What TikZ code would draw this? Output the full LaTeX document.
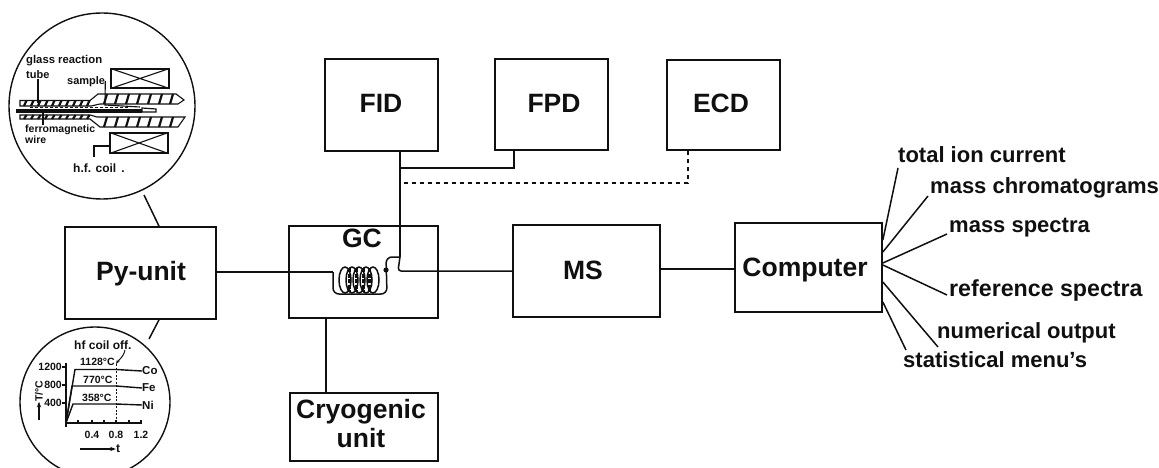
\documentclass[tikz,border=0pt]{standalone}
\usepackage{fontspec}
\setmainfont{Liberation Sans}
\usepackage{tikz}
\usetikzlibrary{positioning,arrows.meta,calc}
\definecolor{ink}{HTML}{101010}
\newcommand{\boxf}{\fontsize{26.5}{30}\selectfont\bfseries}
\newcommand{\labf}{\fontsize{22}{24}\selectfont\bfseries}
\newcommand{\tnyf}{\fontsize{10.5}{12}\selectfont\bfseries}
\begin{document}
\begin{tikzpicture}[
  x=1pt, y=-1pt, text=ink, font=\tnyf,
  unit/.style={draw=ink, line width=1.7pt, inner sep=0pt, align=center, font=\boxf},
  ln/.style={line width=1.5pt, draw=ink},
  thn/.style={line width=1.1pt, draw=ink},
  hat/.style={line width=2.2pt, draw=ink},
  dsh/.style={line width=1.5pt, draw=ink, dash pattern=on 4pt off 4pt},
  lab/.style={anchor=base west, inner sep=0pt, font=\labf},
  tny/.style={anchor=west, inner sep=0pt},
  arr/.style={-{Stealth[length=2mm]}, line width=1.1pt, draw=ink},
]
\useasboundingbox (0,0) rectangle (1159,468);
% ---------------- blocks ----------------
\node[unit, minimum width=151pt, minimum height=92pt] (py) at (140.5,273) {};
\node[font=\boxf, inner sep=0pt] (pylab) at (141,274) {Py-unit};
\node[unit, minimum width=149pt, minimum height=92pt] (gc) at (363.5,272) {};
\node[font=\boxf] (gclab) at (362,238) {GC};
\node[unit, minimum width=148pt, minimum height=68pt] (cryo) at (364,427) {};
\node[font=\boxf, inner sep=0pt] (cryoa) at (361,412) {Cryogenic};
\node[font=\boxf, inner sep=0pt] (cryob) at (361,438) {unit};
\node[unit, minimum width=113pt, minimum height=92pt] (fid) at (381.5,105) {};
\node[font=\boxf, inner sep=0pt] (fidlab) at (381,103) {FID};
\node[unit, minimum width=113pt, minimum height=91pt] (fpd) at (551.5,104.5) {};
\node[font=\boxf, inner sep=0pt] (fpdlab) at (554,103) {FPD};
\node[unit, minimum width=113pt, minimum height=90pt] (ecd) at (723.5,105) {};
\node[font=\boxf, inner sep=0pt] (ecdlab) at (721,103) {ECD};
\node[unit, minimum width=147pt, minimum height=92pt] (ms) at (586.5,271) {};
\node[font=\boxf, inner sep=0pt] (mslab) at (583,270) {MS};
\node[unit, minimum width=147pt, minimum height=89pt] (comp) at (808.5,267.5) {};
\node[font=\boxf, inner sep=0pt] (complab) at (805,270) {Computer};
% ---------------- column and detector lines ----------------
\coordinate (coilin) at (333,272);
\coordinate (jcol) at (400,257);
\coordinate (jfpd) at (400,168);
\coordinate (jecd) at (400,183);
\draw[ln] (py.east |- coilin) -- (coilin);
\draw[ln] (fid.south -| jcol) -- (jcol);
\draw[ln] ([xshift=-37.5pt]fpd.south) |- (jfpd);
\draw[dsh] ([xshift=-35.5pt]ecd.south) |- (jecd);
\draw[ln, rounded corners=3pt] (jcol) -- (398,271) -- (ms.west |- 0,271);
\draw[ln] (ms.east |- 0,269) -- (comp.west |- 0,269);
\draw[ln] (cryo.north -| 326,0) -- (gc.south -| 326,0);
% coil
\draw[ln, rounded corners=6pt] (coilin) -- (333,294) -- (387,294) -- (386,257) -- (jcol);
\foreach \cx in {345,352,359,366,373}
  \draw[ln] (\cx,280) ellipse [x radius=6, y radius=13];
\draw[line width=3pt, draw=ink, dash pattern=on 4pt off 1.5pt] (349,268) -- (349,292) (356,268) -- (356,292) (363,268) -- (363,292) (369,268) -- (369,292);
\fill[ink] (386,270) circle [radius=2.6];
% ---------------- pyrolysis detail (upper circle) ----------------
\node[circle, draw=ink, line width=1.4pt, minimum size=186pt, inner sep=0pt] (cup) at (102,106) {};
\draw[ln] (144,195) -- (py.north -| 159,0);
\node[tny] (tglass) at (26,61) {\fontsize{11.3}{12}\selectfont glass reaction};
\node[tny] (ttube) at (26,75) {\fontsize{11}{12}\selectfont tube};
\node[tny] (tsample) at (67,82) {\fontsize{11}{12}\selectfont sample};
\node[tny] (tferro) at (25,130) {ferromagnetic};
\node[tny] (twire) at (25,140) {wire};
\node[tny] (thf) at (73,168) {\fontsize{12}{12}\selectfont h.f. coil\hspace{5pt}.};
\node[draw=ink, line width=1.1pt, minimum width=58pt, minimum height=19pt, inner sep=0pt] (ctop) at (140,78.5) {};
\node[draw=ink, line width=1.1pt, minimum width=58pt, minimum height=20pt, inner sep=0pt] (cbot) at (139,143) {};
\draw[thn] (ctop.north west) -- (ctop.south east) (ctop.south west) -- (ctop.north east);
\draw[thn] (cbot.north west) -- (cbot.south east) (cbot.south west) -- (cbot.north east);
\draw[thn] (cbot.west |- 0,146) -| (94,157);
\draw[thn] (ttube.south -| 38,0) -- (38,103);
\draw[thn] (tsample.east |- 0,81) -- (105,105) -- (140,107);
\draw[thn] (tferro.north -| 43,0) -- (43,112);
% glass tube walls
\draw[thn] (20,100.5) -- (90,100.5) -- (98,94) -- (176,94) -- (184,100) -- (178,104) -- (100,104) -- (91,106) -- (20,106) -- cycle;
\draw[thn] (20,115) -- (90,115) -- (97,117) -- (185,117) -- (178,127) -- (100,127) -- (90,119) -- (20,119) -- cycle;
\foreach \hx in {24,31,...,88} {
  \draw[hat] (\hx,106) -- (\hx+2.5,100.5);
  \draw[hat] (\hx,119) -- (\hx+2.5,115);
}
\foreach \hx in {104,115,...,170} {
  \draw[hat] (\hx,104) -- (\hx+3,94);
  \draw[hat] (\hx,127) -- (\hx+3,117);
}
\draw[line width=3.2pt, draw=ink] (16,111) -- (142,111);
\draw[line width=1pt, draw=ink, dash pattern=on 3pt off 2pt] (30,108) -- (130,108);
\draw[line width=1.2pt, draw=ink] (142,108) -- (142,112) -- (156,112) -- (156,109) -- cycle;
% ---------------- temperature plot (lower circle) ----------------
\node[circle, draw=ink, line width=1.4pt, minimum size=150pt, inner sep=0pt] (cdn) at (95,402) {};
\draw[ln] (py.south -| 159,0) -- (149,339);
\coordinate (org) at (66,423);
\draw[thn] (66,363) -- (org) -- (142,423);
\foreach \ty/\tl in {367/1200,385/800,403/400} {
  \draw[thn] (62,\ty) -- (66,\ty);
  \node[anchor=east, inner sep=0pt] (y\tl) at (62,\ty) {\tl};
}
\foreach \tx in {78,92,104,116,129,141}
  \draw[thn] (\tx,420) -- (\tx,423);
\draw[thn] (66,423) -- (66,427);
\foreach \tx/\tl in {92/0.4,116/0.8,141/1.2}
  \node[inner sep=0pt] (x\tl) at (\tx,435) {\tl};
\node[inner sep=0pt] (tlab) at (118,449) {\fontsize{12}{12}\selectfont t};
\coordinate (tarr) at (80,449);
\draw[arr] (tarr) -- (tlab);
\node[rotate=90, inner sep=0pt] (Tlab) at (39,391) {T/°C};
\coordinate (Tarr) at (39,420);
\draw[arr] (Tarr) -- (Tlab);
\node[tny] (lco) at (142,371) {\fontsize{11.5}{12}\selectfont Co};
\node[tny] (lfe) at (142,388) {\fontsize{11.5}{12}\selectfont Fe};
\node[tny] (lni) at (142,405) {\fontsize{11.5}{12}\selectfont Ni};
\draw[line width=1.4pt, draw=ink] (org) -- (75,369.5) -- (116,369.5) -- (lco.west);
\draw[line width=1.4pt, draw=ink] (org) -- (72,386) -- (116,386) -- (lfe.west);
\draw[line width=1.4pt, draw=ink] (org) -- (73,404) -- (116,404) -- (lni.west);
\draw[line width=1pt, draw=ink, dash pattern=on 2pt off 1.5pt] (116,364) -- (116,423);
\node[tny] (t1128) at (80,362) {1128°C};
\node[tny] (t770) at (83,380) {770°C};
\node[tny] (t358) at (82,398) {358°C};
\node[tny] (toff) at (74,345) {\fontsize{12}{12}\selectfont hf coil off.};
\draw[-{Stealth[length=1.5mm]}, line width=1pt, draw=ink] (125,350) .. controls (123,358) and (120,358) .. (116,364);
% ---------------- computer outputs ----------------
\node[lab] (total) at (898,162) {total ion current};
\node[lab] (chrom) at (930,193) {mass chromatograms};
\node[lab] (spec) at (949,232) {mass spectra};
\node[lab, font=\fontsize{23.2}{24}\selectfont\bfseries] (refs) at (949,296) {reference spectra};
\node[lab] (nume) at (937,338) {numerical output};
\node[lab] (stat) at (903,367) {statistical menu's};
\draw[ln] (comp.east |- 0,240) -- ([yshift=-6pt]total.base west);
\draw[ln] (comp.east |- 0,252) -- ([xshift=-2pt,yshift=-3pt]chrom.base west);
\draw[ln] (comp.east |- 0,263) -- ([xshift=-2pt,yshift=-2pt]spec.base west);
\draw[ln] (comp.east |- 0,265) -- ([xshift=-2pt,yshift=1pt]refs.base west);
\draw[ln] (comp.east |- 0,282) -- ([xshift=1pt,yshift=-9pt]nume.base west);
\draw[ln] (comp.east |- 0,302) -- ([xshift=3pt,yshift=17pt]stat.base west);
\end{tikzpicture}
\end{document}
